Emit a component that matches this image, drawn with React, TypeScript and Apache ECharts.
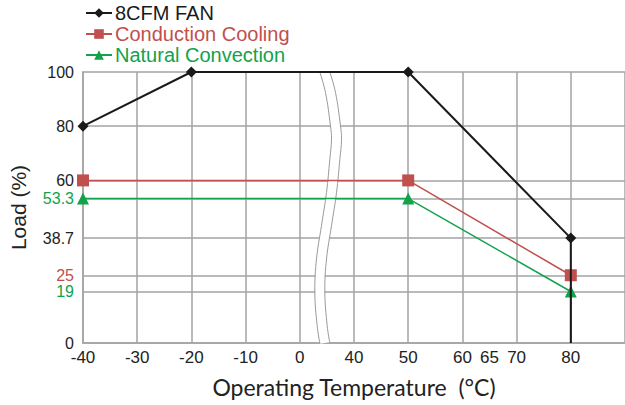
import React, { useEffect, useRef } from "react";
import * as echarts from "echarts";

// ---- data ----
const fanTemps = [-40, -20, 50, 80, 80];
const fanLoads = [80, 100, 100, 38.7, 0];
const conductionTemps = [-40, 50, 80, 80];
const conductionLoads = [60, 60, 25, 0];
const naturalTemps = [-40, 50, 80, 80];
const naturalLoads = [53.3, 53.3, 19, 0];

const xTickTemps = [-40, -30, -20, -10, 0, 40, 50, 60, 65, 70, 80];
const yTickValues = [0, 19, 25, 38.7, 53.3, 60, 80, 100];
const yTickStyle: Record<string, string> = { "53.3": "g", "25": "r", "19": "g" };

const seriesNames = ["8CFM FAN", "Conduction Cooling", "Natural Convection"];
const BLACK = "#1a1a1a";
const RED = "#c0504d";
const GREEN = "#12a24b";

// broken axis: -40..0 and 40..80, each 10 °C step = one unit
const tToIdx = (t: number) => (t <= 0 ? (t + 40) / 10 : 5 + (t - 40) / 10);

// break decoration (axis units: index, load)
const breakCurve: [number, number][] = [
  [4.369, 100], [4.474, 92.4], [4.566, 80.1], [4.585, 75.2], [4.554, 67.8],
  [4.493, 55.6], [4.4, 43.3], [4.308, 31.0], [4.277, 18.8], [4.32, 6.4], [4.369, 0],
];
const breakWidth = 0.185;

function mkData(ts: number[], ls: number[]) {
  return ts.map((t, i) => {
    const last = i === ts.length - 1 && ls[i] === 0;
    return last ? { value: [tToIdx(t), ls[i]], symbol: "none" } : { value: [tToIdx(t), ls[i]] };
  });
}

export default function App() {
  const ref = useRef<HTMLDivElement>(null);
  useEffect(() => {
    if (!ref.current) return;
    const chart = echarts.init(ref.current, null, { renderer: "svg" });
    const font = "Liberation Sans, Arial, sans-serif";
    const nameFont = "Lato, Open Sans, sans-serif";
    const option: any = {
      animation: false,
      grid: { left: 83, right: 0, top: 72, bottom: 62, containLabel: false, outerBoundsMode: "none" },
      legend: {
        orient: "vertical",
        left: 85,
        top: 3,
        padding: 0,
        itemGap: 1,
        itemWidth: 26,
        itemHeight: 12,
        textStyle: { fontFamily: font, fontSize: 20, padding: [0, 0, 0, -2] },
        data: [
          { name: seriesNames[0], textStyle: { color: BLACK } },
          { name: seriesNames[1], textStyle: { color: RED } },
          { name: seriesNames[2], textStyle: { color: GREEN } },
        ],
      },
      xAxis: {
        type: "value",
        min: 0,
        max: 10,
        interval: 1,
        name: "Operating Temperature  (°C)",
        nameLocation: "middle",
        nameGap: 32,
        nameTextStyle: { fontFamily: nameFont, fontSize: 23, color: "#222" },
        axisLine: { show: true, lineStyle: { color: "#a8a8a8", width: 2 } },
        axisTick: { show: false },
        axisLabel: {
          customValues: xTickTemps.map(tToIdx),
          formatter: (v: number) => {
            const i = xTickTemps.findIndex((t) => Math.abs(tToIdx(t) - v) < 1e-6);
            return i >= 0 ? String(xTickTemps[i]) : "";
          },
          fontFamily: font,
          fontSize: 17,
          lineHeight: 14,
          color: "#222",
          margin: 7,
          hideOverlap: false,
        },
        splitLine: { show: true, lineStyle: { color: "#a3a3a3", width: 1.5 } },
      },
      yAxis: {
        type: "value",
        min: 0,
        max: 100,
        name: "Load (%)",
        nameLocation: "middle",
        nameGap: 54,
        nameRotate: 90,
        nameTextStyle: { fontFamily: font, fontSize: 21, color: "#222" },
        axisLine: { show: true, lineStyle: { color: "#a8a8a8", width: 2 } },
        axisTick: { show: false, customValues: yTickValues },
        axisLabel: {
          customValues: yTickValues,
          formatter: (v: number) => {
            const s = String(v);
            const st = yTickStyle[s];
            return st ? `{${st}|${s}}` : `{k|${s}}`;
          },
          fontFamily: font,
          fontSize: 16,
          margin: 9,
          rich: {
            k: { color: "#222", fontFamily: font, fontSize: 16, lineHeight: 12 },
            g: { color: GREEN, fontFamily: font, fontSize: 16, lineHeight: 12 },
            r: { color: RED, fontFamily: font, fontSize: 16, lineHeight: 12 },
          },
        },
        splitLine: { show: true, lineStyle: { color: "#a3a3a3", width: 1.5 } },
      },
      series: [
        {
          name: seriesNames[0],
          type: "line",
          z: 5,
          data: mkData(fanTemps, fanLoads),
          symbol: "diamond",
          symbolSize: 11,
          itemStyle: { color: BLACK },
          lineStyle: { color: BLACK, width: 2 },
        },
        {
          name: seriesNames[1],
          type: "line",
          z: 4,
          data: mkData(conductionTemps, conductionLoads),
          symbol: "rect",
          symbolSize: 12,
          itemStyle: { color: RED },
          lineStyle: { color: RED, width: 1.5 },
        },
        {
          name: seriesNames[2],
          type: "line",
          z: 3,
          data: mkData(naturalTemps, naturalLoads),
          symbol: "triangle",
          symbolSize: 12,
          itemStyle: { color: GREEN },
          lineStyle: { color: GREEN, width: 1.5 },
        },
      ],
    };
    chart.setOption(option);

    const toPx = (p: [number, number]) => chart.convertToPixel({ gridIndex: 0 }, p) as number[];
    const left = breakCurve.map((p) => toPx(p));
    const right = breakCurve.map((p) => toPx([p[0] + breakWidth, p[1]]));
    const mid = breakCurve.map((p) => toPx([p[0] + breakWidth / 2, p[1]]));
    const gap = (right[0][0] - left[0][0]) - 1;
    chart.setOption({
      graphic: [
        { type: "polyline", z: 1, silent: true, shape: { points: mid, smooth: 0.4 }, style: { stroke: "#ffffff", lineWidth: gap, fill: null } },
        { type: "polyline", z: 1, silent: true, shape: { points: left, smooth: 0.4 }, style: { stroke: "#9a9a9a", lineWidth: 1, fill: null } },
        { type: "polyline", z: 1, silent: true, shape: { points: right, smooth: 0.4 }, style: { stroke: "#9a9a9a", lineWidth: 1, fill: null } },
      ],
    });
    return () => chart.dispose();
  }, []);
  return (
    <div
      ref={ref}
      style={{ position: "fixed", left: 0, top: 0, width: 625, height: 405, background: "#fff" }}
    />
  );
}
